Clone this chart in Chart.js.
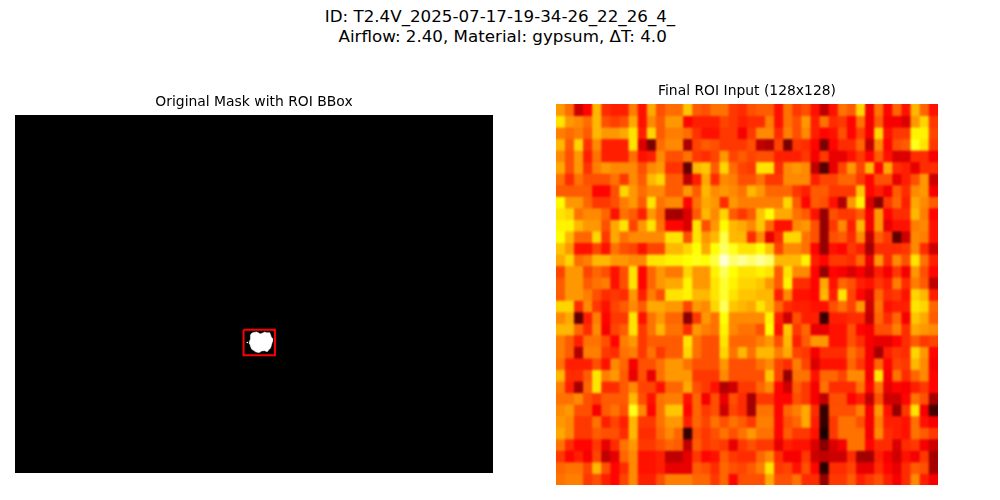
<!DOCTYPE html>
<html><head><meta charset="utf-8">
<style>
html,body{margin:0;padding:0;background:#fff;width:1000px;height:500px;overflow:hidden;font-family:"DejaVu Sans",sans-serif}
#sup{position:absolute;left:0;top:7px;width:1000px;text-align:center;font-size:16.7px;line-height:19.5px;color:#000;white-space:pre}
canvas{position:absolute}
</style>
<script src="https://cdn.jsdelivr.net/npm/chart.js@4"></script>
</head><body>
<div id="sup">ID: T2.4V_2025-07-17-19-34-26_22_26_4_
 Airflow: 2.40, Material: gypsum, ΔT: 4.0</div>
<canvas id="mask" width="478" height="378" style="left:15px;top:95px"></canvas>
<canvas id="roi" width="382" height="401" style="left:556px;top:84px"></canvas>
<script>
const maskTitle="Original Mask with ROI BBox";
const roiTitle="Final ROI Input (128x128)";
const maskWidth=640, maskHeight=480;
const bboxX=[306,348,348,306,306];
const bboxY=[288,288,322,322,288];
const blobX=[316.8,319,323.5,326,328,331,334.6,337,341,342,343,345,344.6,343.5,342,340,337.8,334,330.2,328,325.7,322,319.9,317,315.5,314.5,313.7,315,315.5,315,316.8];
const blobY=[292.7,291.5,290.9,292,293.6,292.5,290.9,292,291.8,294,297.2,300,303.9,308,312.8,314.5,317.3,316,316.4,318,318.6,317.5,315.9,314,310.6,307,303.9,301,297.2,295,292.7];
const speckX=[311,347];
const speckY=[305,289];
const r00=[62,55,30,38,66,44,42,42,58,40,64,50,55,55,68,52,50,56,56,46,44,50,52,52,40,56,46,50,40,28,40,56,52,70,36,56,38,54,40,66,54,40];
const r01=[72,62,60,55,66,50,47,50,64,40,60,52,62,62,38,42,42,42,48,46,42,44,44,58,40,56,50,62,42,56,44,46,38,56,36,52,36,36,32,62,70,46];
const r02=[58,55,58,52,66,62,62,64,72,42,70,52,58,58,55,45,40,40,46,46,36,46,60,60,44,58,50,60,42,38,40,50,38,48,36,70,40,46,46,74,74,48];
const r03=[66,52,70,45,60,42,42,42,72,32,18,55,60,60,25,48,52,50,46,46,46,50,28,26,48,18,46,44,38,18,38,44,44,54,28,60,38,50,52,78,72,46];
const r04=[60,50,62,42,56,42,42,42,55,40,42,60,50,50,56,46,44,48,62,48,52,48,50,50,42,42,42,46,36,46,34,34,40,46,38,52,40,32,32,44,44,36];
const r05=[64,50,62,45,58,62,60,60,60,50,60,62,45,45,15,66,68,52,70,55,48,46,72,72,44,60,62,60,28,12,34,48,62,48,66,38,64,44,42,34,44,44];
const r06=[56,44,56,50,50,50,56,46,60,52,66,70,52,52,28,42,64,44,60,58,50,50,56,46,46,60,60,60,42,48,48,54,54,46,38,50,50,34,42,50,62,30];
const r07=[52,52,52,52,38,38,50,70,62,55,60,60,52,52,62,52,66,60,62,60,56,66,62,54,54,54,46,42,52,52,46,46,46,68,38,42,36,52,44,60,62,36];
const r08=[75,62,62,54,46,46,50,58,62,52,72,56,60,60,38,56,64,62,44,62,58,58,58,58,58,70,52,38,52,50,40,26,62,74,32,20,46,54,42,64,60,52];
const r09=[72,70,56,60,60,54,40,56,52,42,62,54,24,24,32,52,66,60,70,52,46,52,68,76,64,64,56,52,40,22,50,46,46,52,36,62,38,44,44,66,58,38];
const r10=[74,74,66,62,62,50,64,72,48,62,72,56,38,38,32,72,50,62,75,66,64,60,68,54,40,40,60,62,50,22,46,60,42,66,36,62,34,40,40,58,60,40];
const r11=[76,66,54,54,70,46,64,56,60,60,60,60,72,72,50,72,62,66,82,66,66,44,60,34,44,70,70,56,50,22,50,52,44,60,28,52,46,14,30,60,58,40];
const r12=[68,62,40,40,48,40,56,50,48,40,48,48,66,66,70,76,64,76,85,78,72,72,76,68,48,60,60,56,38,22,40,38,46,42,24,44,44,44,46,60,44,30];
const r13=[64,70,55,58,66,66,62,62,60,60,72,72,74,74,76,78,76,82,96,86,90,86,90,86,66,66,66,74,42,38,46,46,44,54,34,62,44,60,50,72,56,42];
const r14=[48,62,62,48,54,50,40,50,72,38,54,62,57,57,70,62,62,74,84,76,72,72,74,72,52,72,60,60,38,22,38,36,32,36,30,42,36,46,36,62,50,38];
const r15=[52,62,62,52,56,58,40,50,72,38,54,62,64,64,74,62,62,72,80,74,70,70,68,62,52,74,44,44,38,64,40,54,50,42,40,46,42,58,44,58,52,28];
const r16=[52,62,62,58,50,44,46,44,62,42,58,50,72,72,74,66,66,72,80,72,68,68,66,66,42,60,40,40,38,66,42,72,48,38,32,54,44,46,40,70,66,42];
const r17=[70,70,44,60,46,40,48,52,60,52,64,64,62,62,48,62,60,70,84,68,66,64,72,66,54,44,42,42,40,40,50,56,48,62,30,56,40,42,42,72,70,54];
const r18=[60,64,14,42,58,38,46,46,72,40,56,62,54,54,20,46,62,56,76,60,60,60,60,74,42,30,50,42,42,8,42,42,44,44,28,54,44,54,36,68,64,52];
const r19=[66,66,54,44,60,36,48,52,72,46,56,66,56,56,44,62,58,56,74,60,56,56,50,76,40,68,46,54,34,34,40,40,50,38,36,50,50,58,44,64,62,60];
const r20=[58,52,42,56,56,50,38,58,62,46,52,52,52,52,72,56,50,50,72,54,54,54,58,62,50,66,42,52,62,62,40,40,50,44,36,34,34,38,44,52,46,48];
const r21=[58,52,26,58,58,46,44,56,58,46,56,46,52,52,70,56,50,50,70,56,66,56,66,66,58,64,48,46,36,44,44,44,56,50,36,24,42,46,44,70,62,38];
const r22=[56,42,42,42,50,40,60,54,36,50,50,56,62,62,56,50,50,50,62,50,50,50,56,60,48,44,58,48,32,40,40,40,54,46,36,54,38,48,46,66,60,36];
const r23=[66,44,44,52,72,58,62,52,34,50,34,56,62,62,62,46,46,46,60,50,50,50,50,68,48,22,56,56,40,54,54,48,60,60,36,72,36,56,44,54,60,38];
const r24=[58,42,24,54,72,44,44,52,60,48,48,40,54,54,64,50,46,40,26,30,46,46,54,60,38,30,52,46,36,56,44,44,44,56,38,56,34,38,36,42,46,38];
const r25=[56,56,60,50,46,52,52,52,66,50,40,56,58,58,40,54,36,50,34,50,44,24,46,46,38,38,50,46,36,28,50,50,38,42,28,50,30,30,38,56,50,24];
const r26=[60,62,50,50,36,52,56,50,78,60,38,56,68,68,38,54,46,50,30,48,44,24,56,56,38,54,58,64,44,8,50,50,50,58,36,62,40,22,46,72,36,10];
const r27=[62,60,46,46,56,42,48,42,66,46,46,56,62,62,42,54,48,56,50,56,52,46,58,58,38,50,54,64,42,8,46,56,56,50,36,58,42,42,40,56,40,36];
const r28=[64,60,46,46,52,50,50,44,66,44,44,54,60,54,8,50,46,50,56,50,56,62,56,56,38,52,46,46,40,4,46,56,56,56,36,60,44,42,40,56,52,46];
const r29=[56,44,38,38,46,34,44,56,62,46,46,50,54,52,28,52,46,48,46,34,46,50,46,46,34,42,40,40,32,20,32,36,56,56,38,44,44,32,44,46,36,30];
const r30=[46,38,42,36,48,28,34,54,60,40,40,42,28,28,34,46,38,40,52,46,44,44,54,60,44,36,36,46,30,28,30,30,44,24,24,42,36,30,40,36,46,24];
const r31=[54,56,56,48,66,50,38,44,60,40,40,42,34,34,34,52,50,44,54,50,48,52,58,72,46,48,40,50,38,6,44,44,48,34,34,44,38,34,44,52,50,24];
const r32=[56,58,58,46,50,42,38,48,60,42,42,50,58,58,58,54,54,46,54,38,50,50,50,64,50,50,56,44,44,22,46,46,52,42,46,50,42,36,44,60,42,36];
const heatRows=[r00,r01,r02,r03,r04,r05,r06,r07,r08,r09,r10,r11,r12,r13,r14,r15,r16,r17,r18,r19,r20,r21,r22,r23,r24,r25,r26,r27,r28,r29,r30,r31,r32];
const columns=r00.map((_,i)=>String(i));

function tone(p){
  const a=[0,45,60,75,100], b=[0,44,57,74,100];
  for(let i=1;i<a.length;i++) if(p<=a[i]) return b[i-1]+(p-a[i-1])*(b[i]-b[i-1])/(a[i]-a[i-1]);
  return 100;
}
function hot(p){
  const v=tone(p)/100;
  const c=x=>Math.round(255*Math.max(0,Math.min(1,x)));
  return `rgb(${c(v/0.365)},${c((v-0.365)/0.381)},${c((v-0.746)/0.254)})`;
}
const blackArea={id:"blackArea",beforeDatasetsDraw(ch){const a=ch.chartArea,g=ch.ctx;g.save();g.fillStyle="#000";g.fillRect(a.left,a.top,a.width,a.height);g.restore();}};
const softCells={id:"softCells",afterDatasetsDraw(ch){
  const a=ch.chartArea,g=ch.ctx;
  g.save();g.beginPath();g.rect(a.left,a.top,a.width,a.height);g.clip();
  g.filter="blur(1px)";g.drawImage(ch.canvas,0,0);g.restore();
}};
const titleOpts=t=>({display:true,text:t,color:"#000",font:{family:"DejaVu Sans",size:13.9,weight:"normal",lineHeight:1},padding:{top:0,bottom:6.1}});
const zip=(xs,ys)=>xs.map((x,i)=>({x,y:ys[i]}));

new Chart(document.getElementById("mask"),{
  type:"scatter",
  plugins:[blackArea],
  data:{datasets:[
    {type:"line",data:zip(bboxX,bboxY),borderColor:"#ff0000",borderWidth:2,pointRadius:0,fill:false,tension:0,order:0},
    {type:"line",data:zip(blobX,blobY),borderColor:"#fff",borderWidth:0.5,backgroundColor:"#fff",pointRadius:0,fill:"shape",tension:0,order:1},
    {data:zip(speckX,speckY),backgroundColor:"#fff",pointRadius:0.8,pointBorderWidth:0,order:1}
  ]},
  options:{responsive:false,animation:false,events:[],layout:{padding:0,autoPadding:false},
    plugins:{legend:{display:false},tooltip:{enabled:false},title:titleOpts(maskTitle)},
    scales:{x:{type:"linear",display:false,min:0,max:maskWidth},y:{type:"linear",display:false,min:0,max:maskHeight,reverse:true}}}
});

new Chart(document.getElementById("roi"),{
  type:"bar",
  plugins:[softCells],
  data:{labels:columns,datasets:heatRows.map((row,r)=>({
    data:row.map(()=>[r,r+1.04]),
    backgroundColor:row.map(hot),
    borderWidth:0,grouped:false,categoryPercentage:1,barPercentage:1.03
  }))},
  options:{responsive:false,animation:false,events:[],layout:{padding:0,autoPadding:false},
    plugins:{legend:{display:false},tooltip:{enabled:false},title:titleOpts(roiTitle)},
    scales:{x:{display:false,stacked:false},y:{type:"linear",display:false,min:0,max:heatRows.length,reverse:true}}}
});
</script>
</body></html>
